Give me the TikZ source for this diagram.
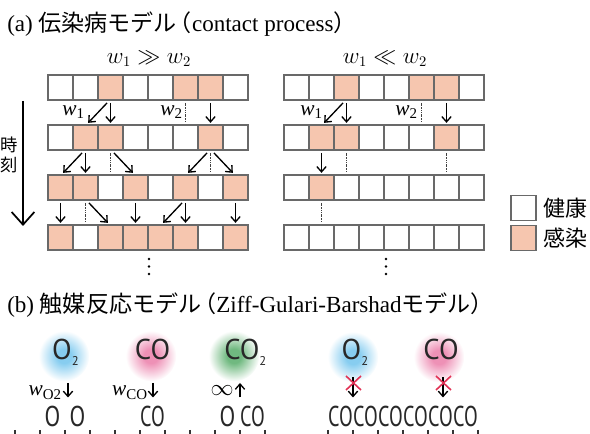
\documentclass[tikz,border=0pt]{standalone}
\usepackage{fontspec}
\setmainfont{Liberation Serif}
\newfontfamily\jp{Noto Sans CJK JP}
\newfontfamily\molfont{PT Sans}
\usetikzlibrary{arrows.meta,calc}
\definecolor{c0}{RGB}{255,255,255}
\definecolor{c1}{RGB}{246,198,175}
\definecolor{cellline}{RGB}{105,105,105}
\definecolor{glowB}{RGB}{135,205,240}
\definecolor{glowP}{RGB}{238,145,182}
\definecolor{glowG}{RGB}{112,185,128}
\definecolor{xred}{RGB}{225,50,85}
\definecolor{molc}{RGB}{40,40,40}
\pgfdeclareradialshading{glowb}{\pgfpoint{0bp}{0bp}}{color(0bp)=(glowB); color(7bp)=(glowB); color(25bp)=(white); color(50bp)=(white)}
\pgfdeclareradialshading{glowp}{\pgfpoint{0bp}{0bp}}{color(0bp)=(glowP); color(7bp)=(glowP); color(25bp)=(white); color(50bp)=(white)}
\pgfdeclareradialshading{glowg}{\pgfpoint{0bp}{0bp}}{color(0bp)=(glowG); color(7bp)=(glowG); color(25bp)=(white); color(50bp)=(white)}
\newcommand\wsub[1]{\textit{w}\textsubscript{#1}}
\newcommand\SubTwo{\raisebox{-3.8pt}{\fontsize{9.5}{9.5}\selectfont 2}}
\newcommand\Ar[2]{\draw[arr] ([yshift=-2.2pt]#1.south) -- ([yshift=1.6pt]#2.north);}
\newcommand\SW[2]{\draw[arr] ([xshift=-2.6pt,yshift=-2.2pt]#1.south) -- ([xshift=2pt,yshift=1.6pt]#2.north);}
\newcommand\SE[2]{\draw[arr] ([xshift=2.6pt,yshift=-2.2pt]#1.south) -- ([xshift=-2pt,yshift=1.6pt]#2.north);}
\newcommand\Rc[2]{\draw[rec] ([yshift=-2.2pt]#1.south) -- ([yshift=2.2pt]#2.north);}
\begin{document}
\begin{tikzpicture}[x=0.75pt,y=-0.75pt,
  cell/.style={draw=cellline, line width=0.9pt, minimum width=18.75pt, minimum height=18.75pt, inner sep=0pt, outer sep=0pt},
  arr/.style={line width=1pt, -{Straight Barb[length=4pt,width=7pt]}},
  rec/.style={line width=0.75pt, draw=black!75, dash pattern=on 2.5pt off 0.8pt on 1.2pt off 0.8pt on 0.8pt off 0.8pt on 0.6pt off 0.8pt},
  lab/.style={inner sep=0pt, font=\fontsize{16}{16}\selectfont},
  ttl/.style={inner sep=0pt, anchor=base west, font=\fontsize{17.3}{20}\selectfont},
  molf/.style={inner sep=0pt, anchor=base, text=molc, font=\molfont\fontsize{21.5}{22}\selectfont},
  jpf/.style={inner sep=0pt, font=\jp\fontsize{16.5}{16.5}\selectfont},
  tick/.style={line width=0.8pt, draw=black!80}]
\useasboundingbox (0,0) rectangle (590,434);
% titles
\node[ttl] (ta) at (7,32) {(a) {\jp 伝染病モデル}\hspace{-0.35em}{\jp （}contact process{\jp ）}};
\node[ttl] (tb) at (7,313) {(b) {\jp 触媒反応モデル}\hspace{-0.35em}{\jp （}Ziff-Gulari-Barshad{\jp モデル）}};
% headers
\node[lab] (hl) at (149,59) {$w_1 \gg w_2$};
\node[lab] (hr) at (385,59) {$w_1 \ll w_2$};
% grids
\foreach \r/\vals in {1/{0,0,1,0,0,1,1,0},2/{0,1,1,0,0,0,1,0},3/{1,1,0,1,0,1,0,1},4/{1,0,1,1,1,1,0,1}}{
  \foreach \v [count=\c] in \vals {
    \node[cell, fill=c\v] (L\r-\c) at ({35.5+25*\c},{37.5+50*\r}) {};
  }
}
\foreach \r/\vals in {1/{0,0,1,0,0,1,1,0},2/{0,1,1,0,0,0,1,0},3/{0,1,0,0,0,0,0,0},4/{0,0,0,0,0,0,0,0}}{
  \foreach \v [count=\c] in \vals {
    \node[cell, fill=c\v] (R\r-\c) at ({271.5+25*\c},{37.5+50*\r}) {};
  }
}
% left transitions
\SW{L1-3}{L2-2}\Ar{L1-3}{L2-3}\Rc{L1-6}{L2-6}\Ar{L1-7}{L2-7}
\SW{L2-2}{L3-1}\Ar{L2-2}{L3-2}\Rc{L2-3}{L3-3}\SE{L2-3}{L3-4}
\SW{L2-7}{L3-6}\Rc{L2-7}{L3-7}\SE{L2-7}{L3-8}
\Ar{L3-1}{L4-1}\Rc{L3-2}{L4-2}\SE{L3-2}{L4-3}\Ar{L3-4}{L4-4}
\SW{L3-6}{L4-5}\Ar{L3-6}{L4-6}\Ar{L3-8}{L4-8}
% right transitions
\SW{R1-3}{R2-2}\Ar{R1-3}{R2-3}\Rc{R1-6}{R2-6}\Ar{R1-7}{R2-7}
\Ar{R2-2}{R3-2}\Rc{R2-3}{R3-3}\Rc{R2-7}{R3-7}
\Rc{R3-2}{R4-2}
% rate labels
\node[lab, anchor=east] (w1l) at (85,112) {\wsub{1}};
\node[lab, anchor=east] (w2l) at (183,112) {\wsub{2}};
\node[lab, anchor=east] (w1r) at (323,112) {\wsub{1}};
\node[lab, anchor=east] (w2r) at (418,112) {\wsub{2}};
% time axis
\coordinate (tA) at (23,101);
\coordinate (tB) at (23,226);
\draw[line width=1.3pt, -{Straight Barb[length=9.5pt,width=17pt,line width=1.3pt]}] (tA) -- (tB);
\node[jpf, font=\jp\fontsize{13}{13}\selectfont] (t1) at (9,145) {時};
\node[jpf, font=\jp\fontsize{13}{13}\selectfont] (t2) at (9,165) {刻};
% dots
\foreach \yy in {259,266.5,274}{
  \fill (149,\yy) circle (1.1pt);
  \fill (386,\yy) circle (1.1pt);
}
% legend
\node[cell, fill=c0] (lg1) at (523.5,208) {};
\node[cell, fill=c1] (lg2) at (523.5,238) {};
\node[jpf, anchor=west] (lt1) at (543,208) {健康};
\node[jpf, anchor=west] (lt2) at (543,238) {感染};
% (b) molecules
\shade[shading=glowb] (64,356) circle (19pt);
\shade[shading=glowp] (151,356) circle (19pt);
\shade[shading=glowg] (234,356) circle (19pt);
\shade[shading=glowb] (353,357) circle (19pt);
\shade[shading=glowp] (439,357) circle (19pt);
\node[molf] (mO2a) at (65.5,360) {O\SubTwo};
\node[molf] (mCOa) at (152.5,360) {CO};
\node[molf, anchor=base west] (mCO2) at (224,360) {CO\SubTwo};
\node[molf] (mO2b) at (355,360) {O\SubTwo};
\node[molf] (mCOb) at (441,360) {CO};
% rates
\node[lab, anchor=base east] (wO2) at (62,396) {\textit{w}\textsubscript{O2}};
\node[lab, anchor=base east] (wCO) at (148,396) {\textit{w}\textsubscript{CO}};
\node[lab, anchor=base east] (winf) at (234,396) {$\infty$};
\draw[arr] (68,383) -- (68,397.5);
\draw[arr] (153,383) -- (153,397.5);
\draw[arr] (240,397.5) -- (240,383);
\draw[arr] (353,377) -- (353,397.5);
\draw[arr] (443,377) -- (443,397.5);
\draw[xred, line width=1.2pt] (346,376) -- (361,390) (361,376) -- (346,390);
\draw[xred, line width=1.2pt] (436,376) -- (451,390) (451,376) -- (436,390);
% surface
\foreach \x in {15,40,...,265} \draw[tick] (\x,430) -- (\x,435);
\foreach \x in {328,353,...,478} \draw[tick] (\x,430) -- (\x,435);
\node[molf] (s1) at (52.5,427) {\scalebox{0.8}[1]{O}};
\node[molf] (s2) at (77.5,427) {\scalebox{0.8}[1]{O}};
\node[molf] (s3) at (152.5,427) {\scalebox{0.7}[1]{CO}};
\node[molf] (s4) at (227.5,427) {\scalebox{0.8}[1]{O}};
\node[molf] (s5) at (252.5,427) {\scalebox{0.7}[1]{CO}};
\foreach \x [count=\i] in {340.5,365.5,...,465.5}
  \node[molf] (sr\i) at (\x,427) {\scalebox{0.7}[1]{CO}};
\end{tikzpicture}
\end{document}
